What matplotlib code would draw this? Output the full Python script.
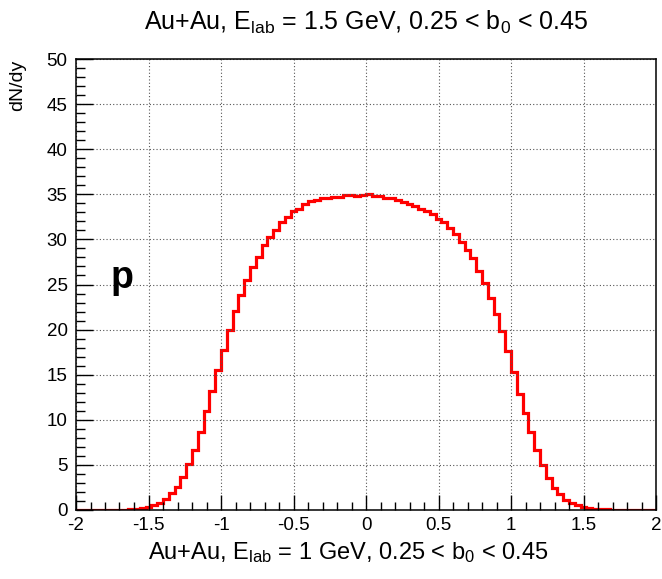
import numpy as np
import matplotlib
matplotlib.use("Agg")
import matplotlib.pyplot as plt
from matplotlib.ticker import MultipleLocator

plt.rcParams['font.family'] = ['Liberation Sans', 'DejaVu Sans']
plt.rcParams['mathtext.fontset'] = 'custom'
plt.rcParams['mathtext.rm'] = 'Liberation Sans'
plt.rcParams['mathtext.it'] = 'Liberation Sans:italic'

# rapidity bins, -2..2 in steps of 0.04
bin_edges = np.linspace(-2.0, 2.0, 101)
dndy = [
    0.0, 0.0, 0.01, 0.01, 0.02, 0.02, 0.03, 0.04, 0.05, 0.08,
    0.12, 0.2, 0.32, 0.55, 0.8, 1.25, 1.9, 2.6, 3.7, 5.05,
    6.7, 8.7, 11.0, 13.2, 15.5, 17.7, 20.0, 22.1, 23.85, 25.45,
    26.9, 28.1, 29.4, 30.25, 31.0, 31.9, 32.5, 33.1, 33.4, 33.9,
    34.25, 34.4, 34.6, 34.6, 34.7, 34.75, 34.9, 34.9, 34.85, 34.9,
    35.0, 34.85, 34.85, 34.55, 34.55, 34.4, 34.1, 33.9, 33.7, 33.4,
    33.1, 32.8, 32.3, 31.9, 31.3, 30.65, 29.7, 28.85, 27.9, 26.5,
    25.15, 23.5, 21.75, 19.8, 17.6, 15.25, 12.9, 10.7, 8.6, 6.6,
    5.0, 3.6, 2.4, 1.75, 1.1, 0.75, 0.5, 0.3, 0.2, 0.12,
    0.1, 0.06, 0.05, 0.04, 0.03, 0.02, 0.02, 0.01, 0.01, 0.0,
]

title = r"Au+Au, E$_{\mathrm{lab}}$ = 1.5 GeV, 0.25 < b$_{\mathrm{0}}$ < 0.45"
xtitle = r"Au+Au, E$_{\mathrm{lab}}$ = 1 GeV, 0.25 < b$_{\mathrm{0}}$ < 0.45"
ytitle = "dN/dy"
particle = "p"

fig = plt.figure(figsize=(6.62, 5.79), dpi=100)
ax = fig.add_axes([76 / 662, 69 / 579, 580 / 662, 451 / 579])

ax.stairs(dndy, bin_edges, color='red', linewidth=2.3, baseline=None)

ax.set_xlim(-2, 2)
ax.set_ylim(0, 50)
ax.xaxis.set_major_locator(MultipleLocator(0.5))
ax.xaxis.set_minor_locator(MultipleLocator(0.1))
ax.yaxis.set_major_locator(MultipleLocator(5))
ax.yaxis.set_minor_locator(MultipleLocator(1))
ax.tick_params(which='both', direction='in', top=False, right=False, labelsize=13.5)
ax.tick_params(axis='x', which='major', length=11, width=1, pad=5)
ax.tick_params(axis='x', which='minor', length=5.5, width=1)
ax.tick_params(axis='y', which='major', length=12, width=1, pad=6)
ax.tick_params(axis='y', which='minor', length=6.5, width=1)
ax.xaxis.set_major_formatter(plt.FuncFormatter(lambda v, p: f"{v:g}"))
ax.grid(True, which='major', color='#555555', linestyle=(0, (1, 2)), linewidth=0.8)
for s in ax.spines.values():
    s.set_linewidth(1.1)

fig.text(348 / 662, 1 - 553 / 579, xtitle, ha='center', va='center', fontsize=17)
fig.text(366 / 662, 1 - 22 / 579, title, ha='center', va='center', fontsize=18)
fig.text(18 / 662, 1 - 60 / 579, ytitle, ha='center', va='top', rotation=90, fontsize=14)
ax.text(-1.68, 24.6, particle, ha='center', va='baseline', fontsize=27, fontweight='bold')

fig.savefig("out.png", dpi=100)
